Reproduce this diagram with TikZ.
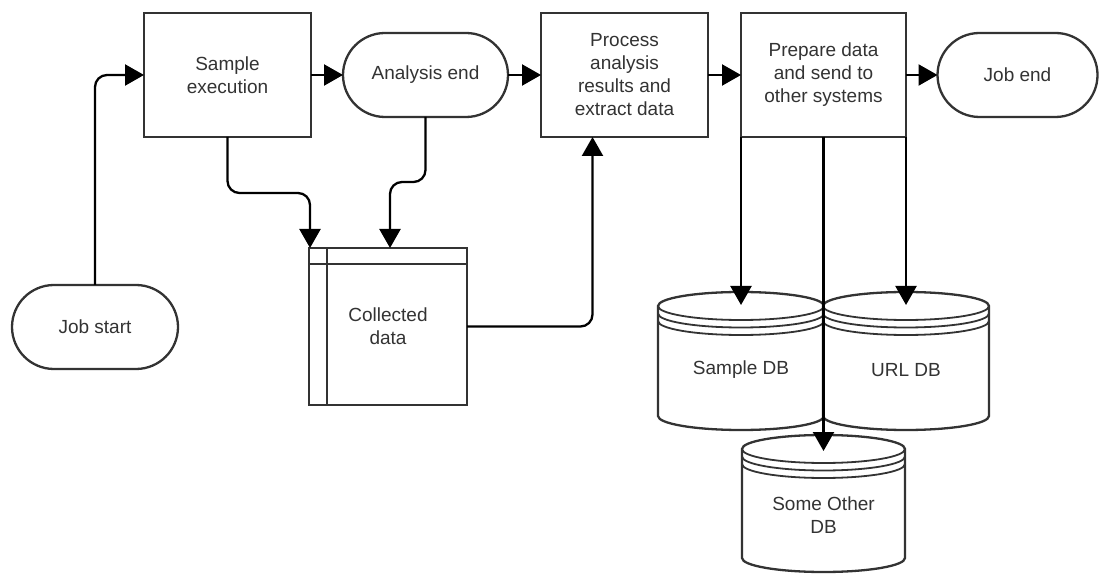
\documentclass[tikz,border=0pt]{standalone}
\usepackage{fontspec}
\setmainfont{Liberation Sans}
\usetikzlibrary{arrows.meta}
\newcommand\dbdraw[2]{%
	\draw[line width=2.3pt, draw=black!80, fill=white] ([yshift=-14pt]#1.north west) -- ([yshift=14pt]#1.south west)
		arc[start angle=180, end angle=360, x radius=#2pt, y radius=14pt]
		-- ([yshift=-14pt]#1.north east)
		arc[start angle=0, end angle=180, x radius=#2pt, y radius=14pt] -- cycle;
	\foreach \d in {14,21.5,29}
		\draw[line width=1.8pt, draw=black!80] ([yshift=-\d pt]#1.north west) arc[start angle=180, end angle=360, x radius=#2pt, y radius=14pt];
}
\begin{document}
\begin{tikzpicture}[x=1pt, y=1pt, >={Triangle[length=19pt,width=21pt]}, font={\fontsize{19}{23}\selectfont},
	box/.style={draw=black!80, line width=2.3pt, fill=white, text=black!80, align=center, outer sep=0pt, minimum height=124pt},
	term/.style={box, rounded corners=42pt, minimum height=84pt},
	store/.style={outer sep=0pt, inner sep=0pt, minimum height=138pt},
	txt/.style={text=black!80, align=center},
	arr/.style={->, line width=2.3pt, rounded corners=12pt}]
		\useasboundingbox (0,0) rectangle (1099,573);
		\node[term, minimum width=166pt] (JS) at (95,246) {Job start};
		\node[box, minimum width=167pt] (SE) at (227.5,498) {Sample\\execution};
		\node[term, minimum width=165pt] (AE) at (425.5,498) {Analysis end};
		\node[box, minimum width=167pt] (PA) at (624.5,498) {Process\\analysis\\results and\\extract data};
		\node[box, minimum width=165pt] (PD) at (823.5,498) {Prepare data\\and send to\\other systems};
		\node[term, minimum width=160pt] (JE) at (1017.5,498) {Job end};
		\node[box, minimum width=158pt, minimum height=157pt] (CD) at (388,246.5) {Collected\\data};
		\draw[line width=2.3pt, draw=black!80] ([xshift=18pt]CD.north west) -- ([xshift=18pt]CD.south west);
		\draw[line width=2.3pt, draw=black!80] ([yshift=-16pt]CD.north west) -- ([yshift=-16pt]CD.north east);
		\node[store, minimum width=166pt] (DB1) at (741,212) {};
		\dbdraw{DB1}{83}
		\node[store, minimum width=166pt] (DB2) at (906,212) {};
		\dbdraw{DB2}{83}
		\node[store, minimum width=163pt, minimum height=137pt] (DB3) at (823.5,69.5) {};
		\dbdraw{DB3}{81.5}
		\node[txt] (DB1t) at ([yshift=-9pt]DB1.center) {Sample DB};
		\node[txt] (DB2t) at ([yshift=-9pt]DB2.center) {URL DB};
		\node[txt] (DB3t) at ([yshift=-11.5pt]DB3.center) {Some Other\\DB};
		\draw[arr] (JS.north) |- (SE.west);
		\draw[arr] (SE.east) -- (AE.west);
		\draw[arr] (AE.east) -- (PA.west);
		\draw[arr] (PA.east) -- (PD.west);
		\draw[arr] (PD.east) -- (JE.west);
		\draw[arr] (SE.south) -- ++(0,-56) -| ([xshift=1pt]CD.north west);
		\draw[arr] (AE.south) -- ++(0,-65) -| ([xshift=2pt]CD.north);
		\draw[arr] (CD.east) -| ([xshift=-32pt]PA.south);
		\draw[arr] (PD.south west) -- ([yshift=-13pt]DB1.north);
		\draw[arr] (PD.south east) -- ([yshift=-13pt]DB2.north);
		\draw[arr] (PD.south) -- ([yshift=-16pt]DB3.north);
	\end{tikzpicture}
\end{document}
